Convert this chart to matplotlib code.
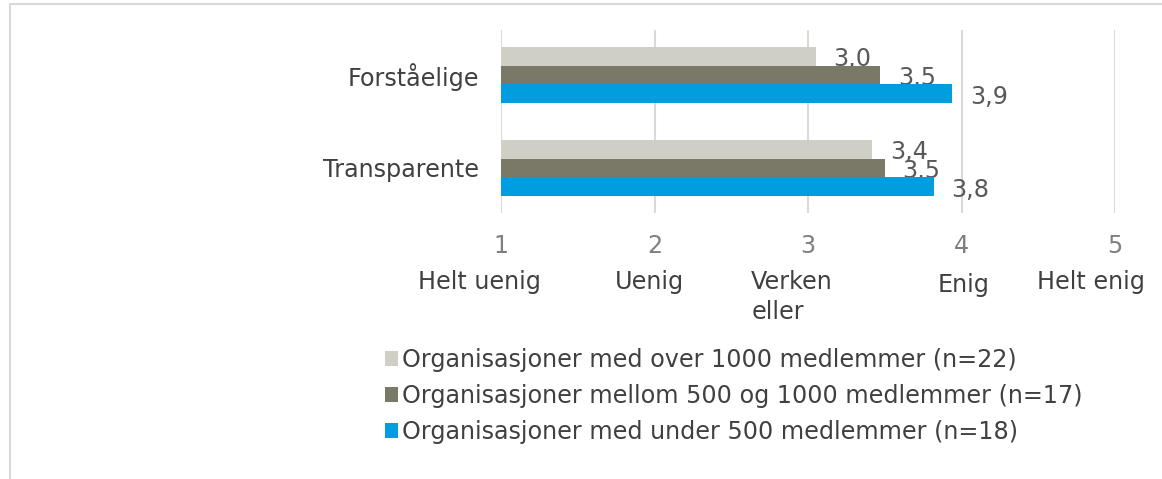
import matplotlib
matplotlib.use('Agg')
import matplotlib.pyplot as plt
import numpy as np
from matplotlib.patches import Rectangle

plt.rcParams['font.family'] = ['DejaVu Sans']

categories = ['Transparente', 'Forståelige']
series_names = [
    'Organisasjoner med over 1000 medlemmer (n=22)',
    'Organisasjoner mellom 500 og 1000 medlemmer (n=17)',
    'Organisasjoner med under 500 medlemmer (n=18)',
]
over_1000 = [3.42, 3.05]
mellom_500_1000 = [3.50, 3.47]
under_500 = [3.82, 3.94]
value_labels = [['3,4', '3,0'], ['3,5', '3,5'], ['3,8', '3,9']]
tick_values = [1, 2, 3, 4, 5]
scale_labels = ['Helt uenig', 'Uenig', 'Verken\neller', 'Enig', 'Helt enig']

colors = ['#d0cfc5', '#7a7866', '#009ddf']
text_gray = '#595959'
fs = 17.2

fig = plt.figure(figsize=(11.62, 4.79), dpi=100)
# outer chart frame (cropped at right/bottom)
fig.patches.append(Rectangle((10 / 1162, -0.1), 1.2, 1.1 - 4 / 479, transform=fig.transFigure,
                             fill=False, edgecolor='#d9d9d9', linewidth=1.5))

ax = fig.add_axes([501 / 1162, 1 - 213 / 479, (1115 - 501) / 1162, (213 - 30) / 479])

y = np.arange(len(categories))
h = 0.204
all_series = [over_1000, mellom_500_1000, under_500]
offsets = [h, 0, -h]
for vals, off, col, name, labs in zip(all_series, offsets, colors, series_names, value_labels):
    bars = ax.barh(y + off, np.array(vals) - 1, left=1, height=h, color=col, label=name, zorder=3)
    for b, lab in zip(bars, labs):
        ax.text(b.get_x() + b.get_width() + 0.115, b.get_y() + b.get_height() / 2 - 0.03, lab,
                ha='left', va='center', fontsize=fs, color=text_gray)

ax.set_xlim(1, 5)
ax.set_ylim(-0.484, 1.484)
ax.set_xticks(tick_values)
ax.set_xticklabels([str(t) for t in tick_values], fontsize=fs, color='#7f7f7f')
ax.tick_params(axis='x', length=0, pad=15)
ax.set_yticks(y)
ax.set_yticklabels(categories, fontsize=fs, color='#404040')
ax.tick_params(axis='y', length=0, pad=16)
ax.grid(axis='x', color='#d9d9d9', linewidth=1.5, zorder=0)
for s in ax.spines.values():
    s.set_visible(False)

# scale descriptions under tick numbers
label_x = [0.857, 1.97, 2.63, 4.016, 4.84]
label_ha = ['center', 'center', 'left', 'center', 'center']
label_dy = [0, 0, 0, 3, 0]
for lx, txt, ha, dy in zip(label_x, scale_labels, label_ha, label_dy):
    ax.annotate(txt, xy=(lx, 0), xycoords=('data', 'axes fraction'), xytext=(0, -57 - dy),
                textcoords='offset pixels', ha=ha, va='top', fontsize=fs, color='#404040',
                linespacing=1.3)

handles, labels = ax.get_legend_handles_labels()
leg = fig.legend(handles, labels, loc='upper left', bbox_to_anchor=(373 / 1162, 1 - 336 / 479),
                 frameon=False, fontsize=fs, handlelength=0.55, handleheight=0.55,
                 handletextpad=0.15, labelspacing=0.5, labelcolor='#404040', borderpad=0)

fig.savefig('out.png', dpi=100)
